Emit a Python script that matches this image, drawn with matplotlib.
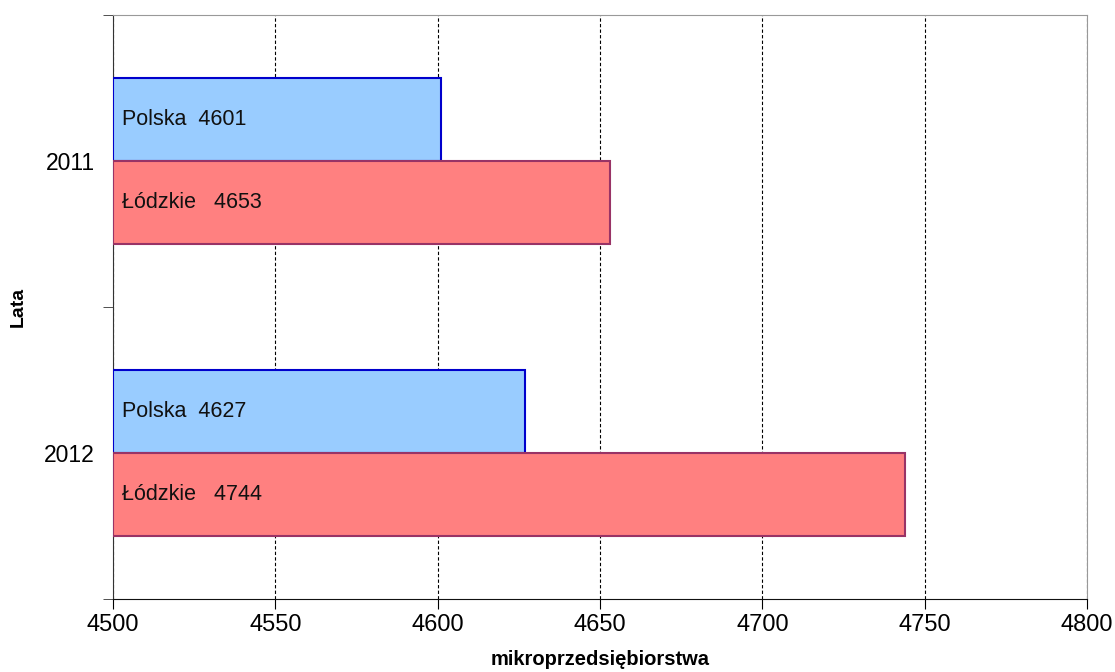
import matplotlib.pyplot as plt
import numpy as np

plt.rcParams['font.family'] = ['Liberation Sans', 'DejaVu Sans']

years = ['2011', '2012']
polska = [4601, 4627]
lodzkie = [4653, 4744]
x_ticks = [4500, 4550, 4600, 4650, 4700, 4750, 4800]

fig = plt.figure(figsize=(11.15, 6.72), dpi=100)
ax = fig.add_axes([0.1013, 0.1086, 0.8736, 0.8691])

y = np.arange(len(years))
h = 0.285
base = 4500
ax.barh(y - h / 2, np.array(polska) - base, left=base, height=h,
        color='#99ccff', edgecolor='#0000cc', linewidth=1.5, zorder=3)
ax.barh(y + h / 2, np.array(lodzkie) - base, left=base, height=h,
        color='#ff8080', edgecolor='#993366', linewidth=1.5, zorder=3)

for i in range(len(years)):
    ax.text(base + 2.8, y[i] - h / 2, f'Polska  {polska[i]}', va='center',
            ha='left', fontsize=15.5, color='#111111', zorder=4)
    ax.text(base + 2.8, y[i] + h / 2, f'Łódzkie   {lodzkie[i]}', va='center',
            ha='left', fontsize=15.5, color='#111111', zorder=4)

ax.set_xlim(4500, 4800)
ax.set_ylim(1.5, -0.5)
ax.set_xticks(x_ticks)
ax.set_yticks(y)
ax.set_yticklabels(years)
ax.set_yticks([-0.5, 0.5, 1.5], minor=True)
ax.tick_params(axis='y', which='major', length=0, pad=13, labelsize=16.5)
ax.tick_params(axis='y', which='minor', length=7, direction='out', color='#333333')
ax.tick_params(axis='x', length=7, direction='out', pad=4, labelsize=17)

ax.grid(axis='x', color='black', linestyle=(0, (3, 2)), linewidth=0.8, zorder=1)

for s in ['top', 'right']:
    ax.spines[s].set_color('#999999')
ax.spines['left'].set_color('#333333')
ax.spines['bottom'].set_color('#111111')

ax.set_xlabel('mikroprzedsiębiorstwa', fontsize=14.5, fontweight='bold', va='center')
ax.xaxis.set_label_coords(0.5, -0.1027)
ax.set_ylabel('Lata', fontsize=14, fontweight='bold', va='center')
ax.yaxis.set_label_coords(-0.0975, 0.5)

fig.savefig('out.png', dpi=100)
